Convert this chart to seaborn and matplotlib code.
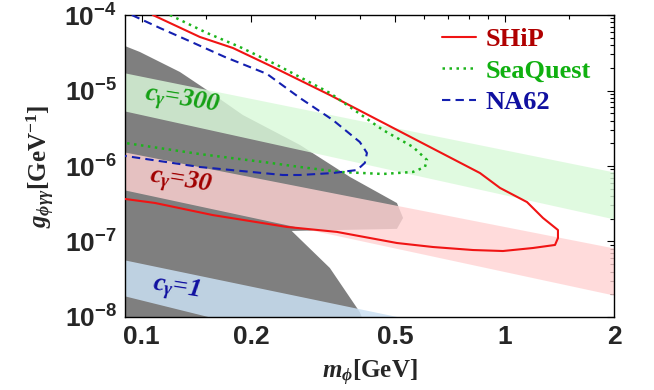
import numpy as np
import matplotlib
matplotlib.use('Agg')
import matplotlib.pyplot as plt
from matplotlib.ticker import FixedLocator, FuncFormatter, LogLocator, NullFormatter
import seaborn as sns

# grey excluded region (m [GeV], g [GeV^-1])
excl_m = [0.09, 0.0989, 0.1275, 0.1542, 0.190, 0.273, 0.375, 0.505, 0.525, 0.505,
          0.259, 0.330, 0.399, 0.404, 0.09]
excl_g = [3.88e-5, 3.24e-5, 1.76e-5, 9.55e-6, 4.74e-6, 1.90e-6, 7.15e-7, 3.23e-7, 2.05e-7, 1.47e-7,
          1.38e-7, 4.46e-8, 1.16e-8, 1e-8, 1e-8]

# c_gamma bands, edges at m = 0.09 and m = 2
band_m = [0.09, 2.0]
c300_lo = [5.35e-6, 1.99e-7]
c300_hi = [1.71e-5, 8.33e-7]
c30_lo = [4.81e-7, 1.95e-8]
c30_hi = [1.53e-6, 8.2e-8]
c1_lo = [1.90e-8, 4.7e-10]
c1_hi = [5.69e-8, 2.56e-9]

# sensitivity contours
ship_m = [0.1074, 0.1447, 0.1784, 0.2299, 0.3301, 0.855, 0.971, 1.152, 1.275, 1.402, 1.402,
          1.376, 1.196, 0.989, 0.818, 0.635, 0.505, 0.345, 0.251, 0.157, 0.1088, 0.09]
ship_g = [1.0e-4, 5.12e-5, 3.66e-5, 2.05e-5, 8.71e-6, 8.07e-7, 5.12e-7, 3.33e-7, 2.05e-7, 1.42e-7, 1.11e-7,
          9.0e-8, 8.2e-8, 7.48e-8, 7.71e-8, 8.45e-8, 9.55e-8, 1.34e-7, 1.56e-7, 2.24e-7, 3.24e-7, 3.66e-7]

seaquest_m = [0.1197, 0.1514, 0.1866, 0.236, 0.3301, 0.375, 0.462, 0.559, 0.611, 0.603,
              0.559, 0.462, 0.352, 0.273, 0.226, 0.1447, 0.09]
seaquest_g = [1.0e-4, 5.78e-5, 3.77e-5, 2.18e-5, 9.27e-6, 6.04e-6, 3.0e-6, 1.79e-6, 1.2e-6, 9.7e-7,
              8.34e-7, 7.84e-7, 8.34e-7, 9.7e-7, 1.1e-6, 1.44e-6, 2.02e-6]

na62_m = [0.094, 0.1123, 0.1334, 0.1696, 0.2214, 0.273, 0.3365, 0.399, 0.4175, 0.412,
          0.392, 0.3365, 0.273, 0.245, 0.1447, 0.09]
na62_g = [1.0e-4, 6.73e-5, 4.67e-5, 2.78e-5, 1.66e-5, 7.96e-6, 4.06e-6, 2.08e-6, 1.49e-6, 1.1e-6,
          8.85e-7, 8.07e-7, 7.6e-7, 7.6e-7, 9.7e-7, 1.36e-6]

x_major = [0.1, 0.2, 0.5, 1, 2]
x_major_labels = ['0.1', '0.2', '0.5', '1', '2']
x_minor = [0.15, 0.3, 0.4, 0.6, 0.7, 0.8, 0.9, 1.5]

sns.set_theme(style='white')
plt.rcParams['font.family'] = ['Liberation Sans', 'DejaVu Sans']
plt.rcParams['font.weight'] = 'bold'
plt.rcParams['mathtext.fontset'] = 'custom'
plt.rcParams['mathtext.rm'] = 'Liberation Serif:bold'
plt.rcParams['mathtext.it'] = 'Liberation Serif:italic:bold'
plt.rcParams['mathtext.bf'] = 'Liberation Serif:bold'
plt.rcParams['mathtext.sf'] = 'Liberation Sans:bold'

fig = plt.figure(figsize=(6.54, 3.90), dpi=100)
ax = fig.add_axes([0.1911, 0.1872, 0.7477, 0.7743])
ax.set_xscale('log')
ax.set_yscale('log')

ax.fill(excl_m, excl_g, color='#7f7f7f', lw=0, zorder=1)
ax.fill_between(band_m, c300_lo, c300_hi, color='#daf9da', alpha=0.82, lw=0, zorder=2)
ax.fill_between(band_m, c30_lo, c30_hi, color='#ffd3d3', alpha=0.8, lw=0, zorder=2)
ax.fill_between(band_m, c1_lo, c1_hi, color='#cae0f3', alpha=0.85, lw=0, zorder=2)

sns.lineplot(x=ship_m, y=ship_g, sort=False, estimator=None, color='#f01414',
             lw=1.5, ax=ax, label='SHiP', zorder=4)
sns.lineplot(x=seaquest_m, y=seaquest_g, sort=False, estimator=None, color='#1cb41c',
             lw=1.8, linestyle=(0, (1, 1.8)), ax=ax, label='SeaQuest', zorder=4)
sns.lineplot(x=na62_m, y=na62_g, sort=False, estimator=None, color='#1420b0',
             lw=1.5, linestyle=(0, (4, 2.5)), ax=ax, label='NA62', zorder=4)

ax.set_xlim(0.09, 2)
ax.set_ylim(1e-8, 1e-4)

ax.xaxis.set_major_locator(FixedLocator(x_major))
ax.xaxis.set_minor_locator(FixedLocator(x_minor))
ax.set_xticklabels(x_major_labels)
ax.xaxis.set_minor_formatter(NullFormatter())
ax.yaxis.set_major_locator(LogLocator(base=10))
ax.yaxis.set_minor_locator(LogLocator(base=10, subs=np.arange(2, 10)))
ax.yaxis.set_minor_formatter(NullFormatter())
ax.yaxis.set_major_formatter(FuncFormatter(lambda v, p: r'$\mathsf{10^{%d}}$' % round(np.log10(v))))

ax.tick_params(which='both', direction='in', top=True, right=True, color='black', width=0.8)
ax.tick_params(which='major', length=5, labelsize=19, pad=6)
ax.tick_params(which='minor', length=3)
for s in ax.spines.values():
    s.set_color('black')
    s.set_linewidth(1.0)

serif = {'family': 'Liberation Serif', 'weight': 'bold', 'size': 18}
ax.set_xlabel(r'$m_{\phi}$[GeV]', fontdict=serif)
ax.set_ylabel(r'$g_{\phi\gamma\gamma}$[GeV$^{-1}$]', fontdict=serif)
ax.xaxis.set_label_coords(0.5, -0.135)
ax.yaxis.set_label_coords(-0.14, 0.5)

band_font = {'family': 'Liberation Serif', 'weight': 'bold', 'style': 'italic', 'size': 19}
ax.text(0.129, 7.1e-6, r'$c_{\gamma}$=300', color='#14a014', rotation=-9,
        ha='center', va='center', fontdict=band_font, zorder=5)
ax.text(0.128, 6.0e-7, r'$c_{\gamma}$=30', color='#a00000', rotation=-9,
        ha='center', va='center', fontdict=band_font, zorder=5)
ax.text(0.124, 2.3e-8, r'$c_{\gamma}$=1', color='#1010a0', rotation=-9,
        ha='center', va='center', fontdict=band_font, zorder=5)

ax.legend(loc='upper right', bbox_to_anchor=(0.985, 1.01), frameon=False,
          prop={'family': 'Liberation Serif', 'weight': 'bold', 'size': 19},
          labelcolor=['#b00000', '#10b010', '#1010a0'],
          handlelength=1.3, handletextpad=0.35, labelspacing=0.3, borderaxespad=0.2)

fig.savefig('out.png', dpi=100, facecolor='white')
